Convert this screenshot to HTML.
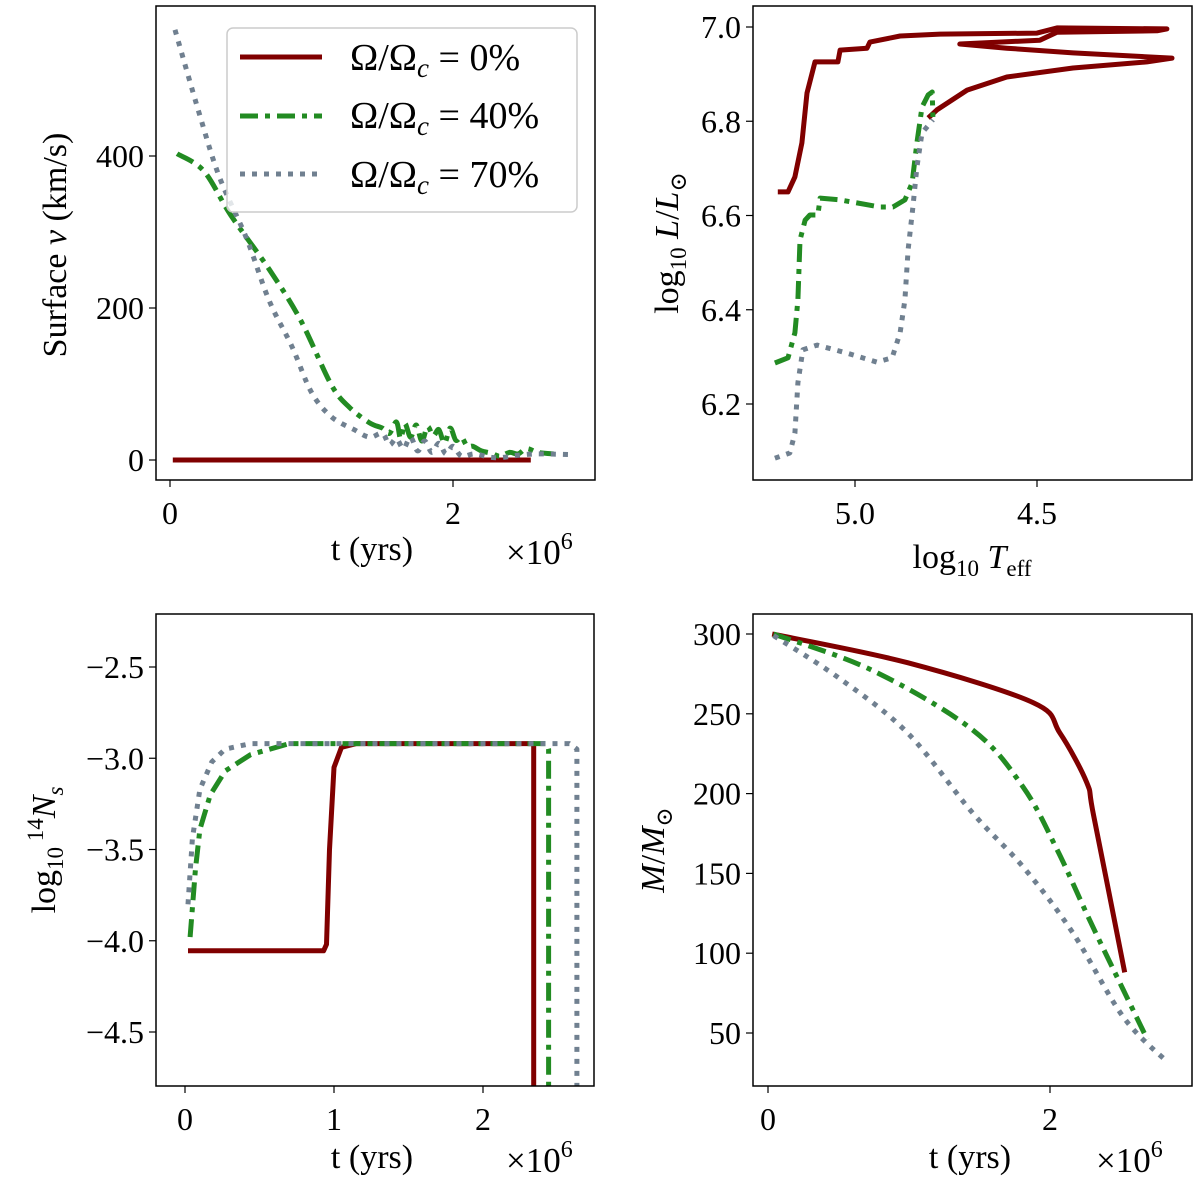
<!DOCTYPE html>
<html><head><meta charset="utf-8">
<style>
html,body{margin:0;padding:0;background:#fff;}
svg{display:block;font-family:"Liberation Serif","DejaVu Serif",serif;}
</style></head>
<body>
<svg id="fig" width="1200" height="1188" viewBox="0 0 1200 1188" xmlns="http://www.w3.org/2000/svg"></svg>
<script>
// ---- Panel A: surface velocity vs time (t in 1e6 yr, v in km/s)
const vT0 = [0.02, 2.55];
const vV0 = [0, 0];
const vT40 = [0.05,0.24,0.43,0.70,0.92,1.14,1.27,1.41,1.50,1.55,1.60,1.63,1.66,1.70,1.74,1.78,1.82,1.86,1.90,1.94,1.98,2.02,2.06,2.10,2.14,2.20,2.27,2.33,2.40,2.46,2.52,2.60,2.71];
const vV40 = [403,380,322,251,185,99,69,49,42,35,50,28,48,30,46,25,44,32,40,22,42,26,30,18,18,12,9,5,10,8,15,10,8];
const vT70 = [0.035,0.21,0.35,0.54,0.70,0.86,1.00,1.14,1.30,1.41,1.50,1.55,1.60,1.65,1.70,1.75,1.80,1.85,1.90,1.95,2.00,2.06,2.15,2.25,2.33,2.45,2.60,2.85];
const vV70 = [566,454,372,292,210,150,89,57,40,30,35,20,28,15,30,12,25,10,22,8,18,5,8,4,3,6,8,7];
// ---- Panel B: HR diagram (logTeff, logL)
const hT0 = [5.212,5.184,5.165,5.146,5.132,5.110,5.047,5.041,4.967,4.959,4.876,4.766,4.500,4.445,4.143,4.170,4.445,4.492,4.712,4.583,4.401,4.129,4.198,4.401,4.583,4.692,4.775,4.799];
const hL0 = [6.650,6.650,6.682,6.754,6.860,6.926,6.926,6.951,6.955,6.968,6.981,6.985,6.987,6.998,6.996,6.992,6.989,6.972,6.964,6.955,6.945,6.934,6.926,6.913,6.894,6.866,6.824,6.807];
const hT40 = [5.220,5.184,5.165,5.157,5.151,5.137,5.124,5.102,5.096,5.041,4.931,4.896,4.863,4.843,4.830,4.816,4.799,4.788,4.786];
const hL40 = [6.287,6.298,6.351,6.421,6.548,6.590,6.601,6.601,6.637,6.633,6.618,6.618,6.633,6.669,6.754,6.830,6.856,6.862,6.809];
const hT70 = [5.220,5.179,5.165,5.157,5.143,5.104,5.022,4.940,4.898,4.876,4.863,4.854,4.841,4.830,4.816,4.786];
const hL70 = [6.085,6.096,6.138,6.245,6.315,6.325,6.308,6.289,6.298,6.351,6.421,6.527,6.618,6.703,6.775,6.803];
// ---- Panel C: surface N14 vs time
const nT0 = [0.02,0.93,0.95,0.97,1.00,1.05,1.15,2.33,2.34,2.34];
const nN0 = [-4.055,-4.055,-4.02,-3.50,-3.05,-2.94,-2.92,-2.92,-2.92,-5.0];
const nT40 = [0.034,0.07,0.10,0.17,0.27,0.44,0.70,2.43,2.44,2.44];
const nN40 = [-3.98,-3.61,-3.39,-3.20,-3.07,-2.98,-2.92,-2.92,-2.95,-5.0];
const nT70 = [0.02,0.05,0.10,0.18,0.27,0.44,2.58,2.63,2.63];
const nN70 = [-3.80,-3.44,-3.17,-3.02,-2.95,-2.92,-2.92,-2.95,-5.0];
// ---- Panel D: mass vs time
const mT0 = [0.03,0.99,1.88,2.07,2.26,2.31,2.53];
const mM0 = [300,282,257,238,207,186,88];
const mT40 = [0.04,0.745,1.45,1.81,2.05,2.28,2.52,2.69];
const mM40 = [300,277,240,204,165,121,77,46];
const mT70 = [0.04,0.51,0.99,1.45,1.81,2.16,2.52,2.83];
const mM70 = [299,272,238,188,154,113,60,32];
// ---- ticks
const tickV = [0,200,400];
const tickTime = [0,2];
const tickL = [6.2,6.4,6.6,6.8,7.0];
const tickTe = [5.0,4.5];
const tickN = [-2.5,-3.0,-3.5,-4.0,-4.5];
const tickTimeN = [0,1,2];
const tickM = [50,100,150,200,250,300];

const NS="http://www.w3.org/2000/svg";
const svg=document.getElementById('fig');
function mk(tag,attrs,parent){const e=document.createElementNS(NS,tag);for(const k in attrs)e.setAttribute(k,attrs[k]);(parent||svg).appendChild(e);return e;}
function lin(d0,d1,p0,p1){return v=>p0+(v-d0)*(p1-p0)/(d1-d0);}
const STY={
 s0:{stroke:'#800000',dash:'none'},
 s40:{stroke:'#228b22',dash:'18,7,5,7'},
 s70:{stroke:'#708090',dash:'5,7'}
};
function pathD(P,smooth){
 if(!smooth||P.length<3){return P.map((p,i)=>(i?'L':'M')+p[0].toFixed(1)+','+p[1].toFixed(1)).join('');}
 let d='M'+P[0][0].toFixed(1)+','+P[0][1].toFixed(1);
 for(let i=0;i<P.length-1;i++){
  const p0=P[i-1]||P[i],p1=P[i],p2=P[i+1],p3=P[i+2]||P[i+1];
  const c1=[p1[0]+(p2[0]-p0[0])/6,p1[1]+(p2[1]-p0[1])/6];
  const c2=[p2[0]-(p3[0]-p1[0])/6,p2[1]-(p3[1]-p1[1])/6];
  d+='C'+c1[0].toFixed(1)+','+c1[1].toFixed(1)+' '+c2[0].toFixed(1)+','+c2[1].toFixed(1)+' '+p2[0].toFixed(1)+','+p2[1].toFixed(1);
 }
 return d;
}
function panel(name,box,sx,sy,series,xt,yt,xfmt,yfmt,smooth){
 const g=mk('g',{},svg);
 
 
 const cid='clip-'+name;
 const cp=mk('clipPath',{id:cid},g);mk('rect',{x:box.x,y:box.y,width:box.w,height:box.h},cp);
 const sg=mk('g',{'clip-path':'url(#'+cid+')'},g);
 series.forEach(s=>{
  const P=s.x.map((v,i)=>[sx(v),sy(s.y[i])]);
  const p=mk('path',{d:pathD(P,smooth),fill:'none',stroke:STY[s.k].stroke,'stroke-width':5,'stroke-dasharray':STY[s.k].dash,'stroke-linejoin':'round'},sg);
  
  
 });
 const fr=mk('rect',{x:box.x,y:box.y,width:box.w,height:box.h,fill:'none',stroke:'#000','stroke-width':1.5},g);
 
 
 xt.forEach(v=>{const X=sx(v);mk('line',{x1:X,y1:box.y+box.h,x2:X,y2:box.y+box.h+7,stroke:'#000','stroke-width':1.2},g);
  const t=mk('text',{x:X,y:box.y+box.h+44,'text-anchor':'middle','font-size':32},g);t.textContent=xfmt(v);
  
  });
 yt.forEach(v=>{const Y=sy(v);mk('line',{x1:box.x-7,y1:Y,x2:box.x,y2:Y,stroke:'#000','stroke-width':1.2},g);
  const t=mk('text',{x:box.x-12,y:Y+11,'text-anchor':'end','font-size':32},g);t.textContent=yfmt(v);
  
  });
}
const mn=v=>(v<0?'\u2212':'')+Math.abs(v).toFixed(1);
{const box={x:156,y:6,w:439,h:474};
 panel('velocity-panel',box,lin(0,2,170,453),lin(0,400,460,156),
 [{x:vT0,y:vV0,k:'s0',n:'velocity-line-0'},{x:vT40,y:vV40,k:'s40',n:'velocity-line-40'},{x:vT70,y:vV70,k:'s70',n:'velocity-line-70'}],
 tickTime,tickV,v=>String(v),v=>String(v),true);}
{const box={x:753,y:6,w:439,h:474};
 panel('hr-panel',box,lin(5.0,4.5,855,1037),lin(6.2,7.0,404,27),
 [{x:hT0,y:hL0,k:'s0',n:'hr-track-0'},{x:hT40,y:hL40,k:'s40',n:'hr-track-40'},{x:hT70,y:hL70,k:'s70',n:'hr-track-70'}],
 tickTe,tickL,v=>v.toFixed(1),v=>v.toFixed(1),false);}
{const box={x:156,y:614,w:438,h:472};
 panel('nitrogen-panel',box,lin(0,2,185,483),lin(-2.5,-4.5,667,1032),
 [{x:nT0,y:nN0,k:'s0',n:'nitrogen-line-0'},{x:nT40,y:nN40,k:'s40',n:'nitrogen-line-40'},{x:nT70,y:nN70,k:'s70',n:'nitrogen-line-70'}],
 tickTimeN,tickN,v=>String(v),mn,false);}
{const box={x:753,y:614,w:439,h:472};
 panel('mass-panel',box,lin(0,2,768,1050),lin(300,50,634,1033),
 [{x:mT0,y:mM0,k:'s0',n:'mass-line-0'},{x:mT40,y:mM40,k:'s40',n:'mass-line-40'},{x:mT70,y:mM70,k:'s70',n:'mass-line-70'}],
 tickTime,tickM,v=>String(v),v=>String(v),true);}
</script>
<svg style="position:absolute;left:0;top:0" width="1200" height="1188" font-family="Liberation Serif, DejaVu Serif, serif">
 <g>
  <rect x="227" y="28" width="350" height="184" rx="6" fill="#fff" fill-opacity="0.8" stroke="#ccc" stroke-width="1.5"/>
  <line x1="240" y1="57" x2="322" y2="57" stroke="#800000" stroke-width="5"/>
  <line x1="240" y1="116" x2="322" y2="116" stroke="#228b22" stroke-width="5" stroke-dasharray="18,7,5,7"/>
  <line x1="240" y1="174" x2="322" y2="174" stroke="#708090" stroke-width="5" stroke-dasharray="5,7"/>
  <text x="350" y="70" font-size="38">Ω/Ω<tspan font-style="italic" font-size="27" dy="7">c</tspan><tspan dy="-7"> = 0%</tspan></text>
  <text x="350" y="128" font-size="38">Ω/Ω<tspan font-style="italic" font-size="27" dy="7">c</tspan><tspan dy="-7"> = 40%</tspan></text>
  <text x="350" y="187" font-size="38">Ω/Ω<tspan font-style="italic" font-size="27" dy="7">c</tspan><tspan dy="-7"> = 70%</tspan></text>
 </g>
 <text transform="translate(66,245) rotate(-90)" text-anchor="middle" font-size="34">Surface <tspan font-style="italic">v</tspan> (km/s)</text>
 <text x="372" y="560" text-anchor="middle" font-size="34">t (yrs)</text>
 <text x="506" y="564" font-size="35">×10<tspan font-size="24" dy="-15">6</tspan></text>

 <text transform="translate(678,243) rotate(-90)" text-anchor="middle" font-size="34">log<tspan font-size="23" dy="8">10</tspan><tspan dy="-8" font-style="italic"> L</tspan>/<tspan font-style="italic">L</tspan><tspan font-size="23" dy="8">⊙</tspan></text>
 <text x="972" y="568" text-anchor="middle" font-size="34">log<tspan font-size="23" dy="8">10</tspan><tspan dy="-8" font-style="italic"> T</tspan><tspan font-size="23" dy="8">eff</tspan></text>

 <text transform="translate(55,850) rotate(-90)" text-anchor="middle" font-size="34">log<tspan font-size="23" dy="8">10</tspan><tspan font-size="23" dy="-20"> 14</tspan><tspan dy="12" font-style="italic">N</tspan><tspan font-size="23" font-style="italic" dy="8">s</tspan></text>
 <text x="372" y="1168" text-anchor="middle" font-size="34">t (yrs)</text>
 <text x="506" y="1172" font-size="35">×10<tspan font-size="24" dy="-15">6</tspan></text>

 <text transform="translate(664,850) rotate(-90)" text-anchor="middle" font-size="34"><tspan font-style="italic">M</tspan>/<tspan font-style="italic">M</tspan><tspan font-size="23" dy="8">⊙</tspan></text>
 <text x="970" y="1168" text-anchor="middle" font-size="34">t (yrs)</text>
 <text x="1096" y="1172" font-size="35">×10<tspan font-size="24" dy="-15">6</tspan></text>
</svg>
</body></html>
